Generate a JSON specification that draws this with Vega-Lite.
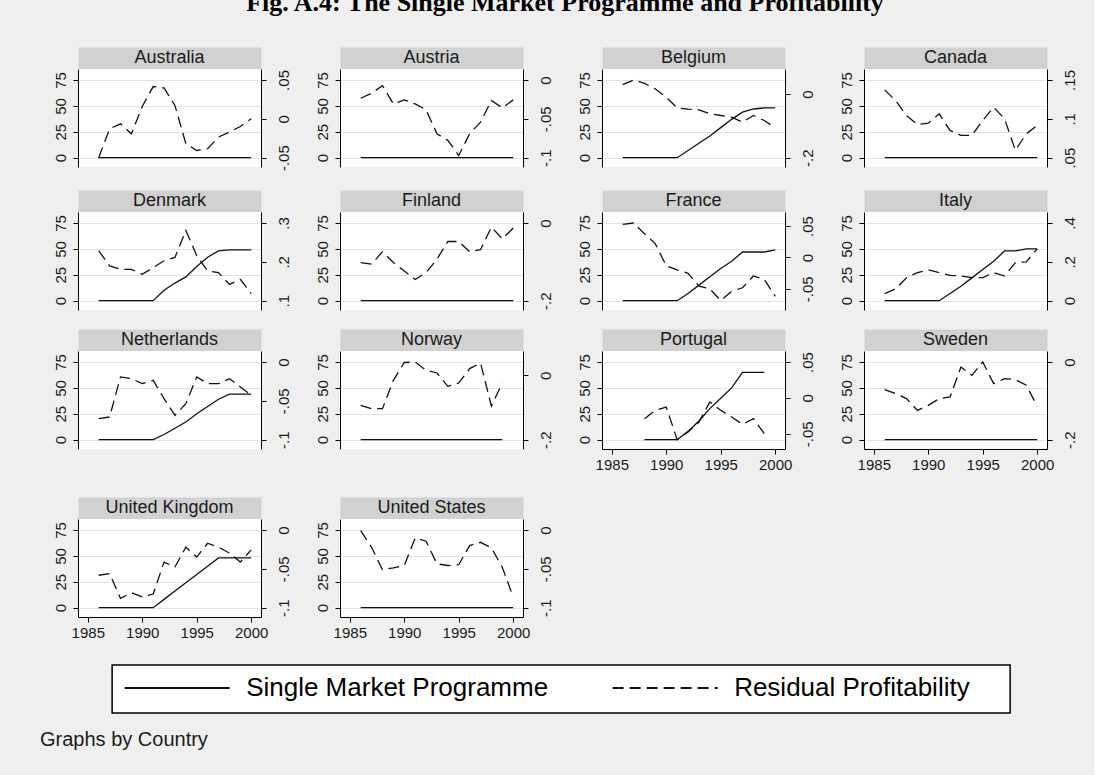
{
"$schema": "https://vega.github.io/schema/vega-lite/v6.json",
"background": "#efefef",
"padding": {"left": 40, "top": -11, "right": 17, "bottom": 25},
"title": {"text": "Graphs by Country", "orient": "bottom", "anchor": "start", "dx": -13, "offset": 16, "fontSize": 20, "fontWeight": "normal", "font": "Liberation Sans", "color": "#1a1a1a"},
"config": {
  "view": {"stroke": null},
  "font": "Liberation Sans",
  "axis": {"labelFont": "Liberation Sans", "labelFontSize": 15, "labelColor": "#1a1a1a", "domainColor": "#000000", "tickColor": "#000000", "tickSize": 5, "labelPadding": 3, "labelFlush": false, "labelOverlap": false, "domainWidth": 1, "tickWidth": 1},
  "text": {"font": "Liberation Sans"}
},
"resolve": {"scale": {"strokeDash": "independent"}, "legend": {"strokeDash": "independent"}},
"datasets": {"d": [
{"Country":"Australia","Year":1986,"SMP":0,"Residual":-0.05},
{"Country":"Australia","Year":1987,"SMP":0,"Residual":-0.0128},
{"Country":"Australia","Year":1988,"SMP":0,"Residual":-0.0064},
{"Country":"Australia","Year":1989,"SMP":0,"Residual":-0.0193},
{"Country":"Australia","Year":1990,"SMP":0,"Residual":0.0159},
{"Country":"Australia","Year":1991,"SMP":0,"Residual":0.0415},
{"Country":"Australia","Year":1992,"SMP":0,"Residual":0.0397},
{"Country":"Australia","Year":1993,"SMP":0,"Residual":0.0171},
{"Country":"Australia","Year":1994,"SMP":0,"Residual":-0.032},
{"Country":"Australia","Year":1995,"SMP":0,"Residual":-0.0407},
{"Country":"Australia","Year":1996,"SMP":0,"Residual":-0.0384},
{"Country":"Australia","Year":1997,"SMP":0,"Residual":-0.0235},
{"Country":"Australia","Year":1998,"SMP":0,"Residual":-0.0171},
{"Country":"Australia","Year":1999,"SMP":0,"Residual":-0.0099},
{"Country":"Australia","Year":2000,"SMP":0,"Residual":0.0},
{"Country":"Austria","Year":1986,"SMP":0,"Residual":-0.0235},
{"Country":"Austria","Year":1987,"SMP":0,"Residual":-0.0171},
{"Country":"Austria","Year":1988,"SMP":0,"Residual":-0.0073},
{"Country":"Austria","Year":1989,"SMP":0,"Residual":-0.0308},
{"Country":"Austria","Year":1990,"SMP":0,"Residual":-0.0256},
{"Country":"Austria","Year":1991,"SMP":0,"Residual":-0.0308},
{"Country":"Austria","Year":1992,"SMP":0,"Residual":-0.0384},
{"Country":"Austria","Year":1993,"SMP":0,"Residual":-0.0692},
{"Country":"Austria","Year":1994,"SMP":0,"Residual":-0.0777},
{"Country":"Austria","Year":1995,"SMP":0,"Residual":-0.0971},
{"Country":"Austria","Year":1996,"SMP":0,"Residual":-0.0692},
{"Country":"Austria","Year":1997,"SMP":0,"Residual":-0.0543},
{"Country":"Austria","Year":1998,"SMP":0,"Residual":-0.0265},
{"Country":"Austria","Year":1999,"SMP":0,"Residual":-0.0359},
{"Country":"Austria","Year":2000,"SMP":0,"Residual":-0.0256},
{"Country":"Belgium","Year":1986,"SMP":0,"Residual":0.0293},
{"Country":"Belgium","Year":1987,"SMP":0,"Residual":0.0439},
{"Country":"Belgium","Year":1988,"SMP":0,"Residual":0.0335},
{"Country":"Belgium","Year":1989,"SMP":0,"Residual":0.0156},
{"Country":"Belgium","Year":1990,"SMP":0,"Residual":-0.0104},
{"Country":"Belgium","Year":1991,"SMP":0,"Residual":-0.0436},
{"Country":"Belgium","Year":1992,"SMP":7,"Residual":-0.0478},
{"Country":"Belgium","Year":1993,"SMP":14,"Residual":-0.0498},
{"Country":"Belgium","Year":1994,"SMP":21,"Residual":-0.0624},
{"Country":"Belgium","Year":1995,"SMP":29,"Residual":-0.0676},
{"Country":"Belgium","Year":1996,"SMP":37,"Residual":-0.0728},
{"Country":"Belgium","Year":1997,"SMP":44,"Residual":-0.0885},
{"Country":"Belgium","Year":1998,"SMP":47,"Residual":-0.0676},
{"Country":"Belgium","Year":1999,"SMP":48,"Residual":-0.0833},
{"Country":"Belgium","Year":2000,"SMP":48,"Residual":-0.1063},
{"Country":"Canada","Year":1986,"SMP":0,"Residual":0.1372},
{"Country":"Canada","Year":1987,"SMP":0,"Residual":0.1235},
{"Country":"Canada","Year":1988,"SMP":0,"Residual":0.1043},
{"Country":"Canada","Year":1989,"SMP":0,"Residual":0.0928},
{"Country":"Canada","Year":1990,"SMP":0,"Residual":0.0944},
{"Country":"Canada","Year":1991,"SMP":0,"Residual":0.1064},
{"Country":"Canada","Year":1992,"SMP":0,"Residual":0.0851},
{"Country":"Canada","Year":1993,"SMP":0,"Residual":0.0787},
{"Country":"Canada","Year":1994,"SMP":0,"Residual":0.0787},
{"Country":"Canada","Year":1995,"SMP":0,"Residual":0.0979},
{"Country":"Canada","Year":1996,"SMP":0,"Residual":0.1149},
{"Country":"Canada","Year":1997,"SMP":0,"Residual":0.1},
{"Country":"Canada","Year":1998,"SMP":0,"Residual":0.0595},
{"Country":"Canada","Year":1999,"SMP":0,"Residual":0.0808},
{"Country":"Canada","Year":2000,"SMP":0,"Residual":0.0915},
{"Country":"Denmark","Year":1986,"SMP":0,"Residual":0.2288},
{"Country":"Denmark","Year":1987,"SMP":0,"Residual":0.1896},
{"Country":"Denmark","Year":1988,"SMP":0,"Residual":0.1808},
{"Country":"Denmark","Year":1989,"SMP":0,"Residual":0.1808},
{"Country":"Denmark","Year":1990,"SMP":0,"Residual":0.1677},
{"Country":"Denmark","Year":1991,"SMP":0,"Residual":0.1853},
{"Country":"Denmark","Year":1992,"SMP":10,"Residual":0.2027},
{"Country":"Denmark","Year":1993,"SMP":17,"Residual":0.2112},
{"Country":"Denmark","Year":1994,"SMP":23,"Residual":0.2808},
{"Country":"Denmark","Year":1995,"SMP":33,"Residual":0.2157},
{"Country":"Denmark","Year":1996,"SMP":42,"Residual":0.1765},
{"Country":"Denmark","Year":1997,"SMP":48,"Residual":0.1723},
{"Country":"Denmark","Year":1998,"SMP":49,"Residual":0.1419},
{"Country":"Denmark","Year":1999,"SMP":49,"Residual":0.1547},
{"Country":"Denmark","Year":2000,"SMP":49,"Residual":0.1181},
{"Country":"Finland","Year":1986,"SMP":0,"Residual":-0.1019},
{"Country":"Finland","Year":1987,"SMP":0,"Residual":-0.1061},
{"Country":"Finland","Year":1988,"SMP":0,"Residual":-0.0739},
{"Country":"Finland","Year":1989,"SMP":0,"Residual":-0.1019},
{"Country":"Finland","Year":1990,"SMP":0,"Residual":-0.1235},
{"Country":"Finland","Year":1991,"SMP":0,"Residual":-0.1453},
{"Country":"Finland","Year":1992,"SMP":0,"Residual":-0.1277},
{"Country":"Finland","Year":1993,"SMP":0,"Residual":-0.0931},
{"Country":"Finland","Year":1994,"SMP":0,"Residual":-0.0477},
{"Country":"Finland","Year":1995,"SMP":0,"Residual":-0.0477},
{"Country":"Finland","Year":1996,"SMP":0,"Residual":-0.0739},
{"Country":"Finland","Year":1997,"SMP":0,"Residual":-0.0688},
{"Country":"Finland","Year":1998,"SMP":0,"Residual":-0.0104},
{"Country":"Finland","Year":1999,"SMP":0,"Residual":-0.0408},
{"Country":"Finland","Year":2000,"SMP":0,"Residual":-0.0131},
{"Country":"France","Year":1986,"SMP":0,"Residual":0.0529},
{"Country":"France","Year":1987,"SMP":0,"Residual":0.055},
{"Country":"France","Year":1988,"SMP":0,"Residual":0.0379},
{"Country":"France","Year":1989,"SMP":0,"Residual":0.0217},
{"Country":"France","Year":1990,"SMP":0,"Residual":-0.0133},
{"Country":"France","Year":1991,"SMP":0,"Residual":-0.0198},
{"Country":"France","Year":1992,"SMP":7,"Residual":-0.0252},
{"Country":"France","Year":1993,"SMP":15,"Residual":-0.0457},
{"Country":"France","Year":1994,"SMP":23,"Residual":-0.05},
{"Country":"France","Year":1995,"SMP":31,"Residual":-0.0688},
{"Country":"France","Year":1996,"SMP":38,"Residual":-0.0538},
{"Country":"France","Year":1997,"SMP":47,"Residual":-0.0483},
{"Country":"France","Year":1998,"SMP":47,"Residual":-0.0295},
{"Country":"France","Year":1999,"SMP":47,"Residual":-0.035},
{"Country":"France","Year":2000,"SMP":49,"Residual":-0.0619},
{"Country":"Italy","Year":1986,"SMP":0,"Residual":0.0363},
{"Country":"Italy","Year":1987,"SMP":0,"Residual":0.0608},
{"Country":"Italy","Year":1988,"SMP":0,"Residual":0.1184},
{"Country":"Italy","Year":1989,"SMP":0,"Residual":0.1445},
{"Country":"Italy","Year":1990,"SMP":0,"Residual":0.1584},
{"Country":"Italy","Year":1991,"SMP":0,"Residual":0.1445},
{"Country":"Italy","Year":1992,"SMP":7,"Residual":0.1307},
{"Country":"Italy","Year":1993,"SMP":14,"Residual":0.1269},
{"Country":"Italy","Year":1994,"SMP":22,"Residual":0.1184},
{"Country":"Italy","Year":1995,"SMP":30,"Residual":0.1184},
{"Country":"Italy","Year":1996,"SMP":38,"Residual":0.1445},
{"Country":"Italy","Year":1997,"SMP":48,"Residual":0.1269},
{"Country":"Italy","Year":1998,"SMP":48,"Residual":0.1963},
{"Country":"Italy","Year":1999,"SMP":50,"Residual":0.2},
{"Country":"Italy","Year":2000,"SMP":50,"Residual":0.2661},
{"Country":"Netherlands","Year":1986,"SMP":0,"Residual":-0.0729},
{"Country":"Netherlands","Year":1987,"SMP":0,"Residual":-0.0708},
{"Country":"Netherlands","Year":1988,"SMP":0,"Residual":-0.0193},
{"Country":"Netherlands","Year":1989,"SMP":0,"Residual":-0.0215},
{"Country":"Netherlands","Year":1990,"SMP":0,"Residual":-0.0279},
{"Country":"Netherlands","Year":1991,"SMP":0,"Residual":-0.0236},
{"Country":"Netherlands","Year":1992,"SMP":5,"Residual":-0.0472},
{"Country":"Netherlands","Year":1993,"SMP":11,"Residual":-0.0687},
{"Country":"Netherlands","Year":1994,"SMP":17,"Residual":-0.0536},
{"Country":"Netherlands","Year":1995,"SMP":25,"Residual":-0.0193},
{"Country":"Netherlands","Year":1996,"SMP":32,"Residual":-0.0279},
{"Country":"Netherlands","Year":1997,"SMP":39,"Residual":-0.0279},
{"Country":"Netherlands","Year":1998,"SMP":44,"Residual":-0.0215},
{"Country":"Netherlands","Year":1999,"SMP":44,"Residual":-0.0321},
{"Country":"Netherlands","Year":2000,"SMP":44,"Residual":-0.0429},
{"Country":"Norway","Year":1986,"SMP":0,"Residual":-0.0931},
{"Country":"Norway","Year":1987,"SMP":0,"Residual":-0.1037},
{"Country":"Norway","Year":1988,"SMP":0,"Residual":-0.1037},
{"Country":"Norway","Year":1989,"SMP":0,"Residual":-0.0154},
{"Country":"Norway","Year":1990,"SMP":0,"Residual":0.04},
{"Country":"Norway","Year":1991,"SMP":0,"Residual":0.0416},
{"Country":"Norway","Year":1992,"SMP":0,"Residual":0.0158},
{"Country":"Norway","Year":1993,"SMP":0,"Residual":0.0074},
{"Country":"Norway","Year":1994,"SMP":0,"Residual":-0.0341},
{"Country":"Norway","Year":1995,"SMP":0,"Residual":-0.0238},
{"Country":"Norway","Year":1996,"SMP":0,"Residual":0.021},
{"Country":"Norway","Year":1997,"SMP":0,"Residual":0.0384},
{"Country":"Norway","Year":1998,"SMP":0,"Residual":-0.0953},
{"Country":"Norway","Year":1999,"SMP":0,"Residual":-0.0238},
{"Country":"Portugal","Year":1988,"SMP":0,"Residual":-0.029},
{"Country":"Portugal","Year":1989,"SMP":0,"Residual":-0.0174},
{"Country":"Portugal","Year":1990,"SMP":0,"Residual":-0.0128},
{"Country":"Portugal","Year":1991,"SMP":0,"Residual":-0.0583},
{"Country":"Portugal","Year":1992,"SMP":8,"Residual":-0.0476},
{"Country":"Portugal","Year":1993,"SMP":18,"Residual":-0.0338},
{"Country":"Portugal","Year":1994,"SMP":30,"Residual":-0.0057},
{"Country":"Portugal","Year":1995,"SMP":40,"Residual":-0.0174},
{"Country":"Portugal","Year":1996,"SMP":50,"Residual":-0.0267},
{"Country":"Portugal","Year":1997,"SMP":65,"Residual":-0.0369},
{"Country":"Portugal","Year":1998,"SMP":65,"Residual":-0.029},
{"Country":"Portugal","Year":1999,"SMP":65,"Residual":-0.0499},
{"Country":"Sweden","Year":1986,"SMP":0,"Residual":-0.0712},
{"Country":"Sweden","Year":1987,"SMP":0,"Residual":-0.0816},
{"Country":"Sweden","Year":1988,"SMP":0,"Residual":-0.0944},
{"Country":"Sweden","Year":1989,"SMP":0,"Residual":-0.1245},
{"Country":"Sweden","Year":1990,"SMP":0,"Residual":-0.1115},
{"Country":"Sweden","Year":1991,"SMP":0,"Residual":-0.0944},
{"Country":"Sweden","Year":1992,"SMP":0,"Residual":-0.0901},
{"Country":"Sweden","Year":1993,"SMP":0,"Residual":-0.0128},
{"Country":"Sweden","Year":1994,"SMP":0,"Residual":-0.0344},
{"Country":"Sweden","Year":1995,"SMP":0,"Residual":0.0},
{"Country":"Sweden","Year":1996,"SMP":0,"Residual":-0.0557},
{"Country":"Sweden","Year":1997,"SMP":0,"Residual":-0.0429},
{"Country":"Sweden","Year":1998,"SMP":0,"Residual":-0.0453},
{"Country":"Sweden","Year":1999,"SMP":0,"Residual":-0.06},
{"Country":"Sweden","Year":2000,"SMP":0,"Residual":-0.1141},
{"Country":"United Kingdom","Year":1986,"SMP":0,"Residual":-0.0583},
{"Country":"United Kingdom","Year":1987,"SMP":0,"Residual":-0.0561},
{"Country":"United Kingdom","Year":1988,"SMP":0,"Residual":-0.0881},
{"Country":"United Kingdom","Year":1989,"SMP":0,"Residual":-0.0808},
{"Country":"United Kingdom","Year":1990,"SMP":0,"Residual":-0.086},
{"Country":"United Kingdom","Year":1991,"SMP":0,"Residual":-0.0825},
{"Country":"United Kingdom","Year":1992,"SMP":8,"Residual":-0.0413},
{"Country":"United Kingdom","Year":1993,"SMP":16,"Residual":-0.0477},
{"Country":"United Kingdom","Year":1994,"SMP":24,"Residual":-0.0221},
{"Country":"United Kingdom","Year":1995,"SMP":32,"Residual":-0.0349},
{"Country":"United Kingdom","Year":1996,"SMP":40,"Residual":-0.0171},
{"Country":"United Kingdom","Year":1997,"SMP":48,"Residual":-0.0221},
{"Country":"United Kingdom","Year":1998,"SMP":48,"Residual":-0.0297},
{"Country":"United Kingdom","Year":1999,"SMP":48,"Residual":-0.0413},
{"Country":"United Kingdom","Year":2000,"SMP":48,"Residual":-0.0256},
{"Country":"United States","Year":1986,"SMP":0,"Residual":-0.0008},
{"Country":"United States","Year":1987,"SMP":0,"Residual":-0.0223},
{"Country":"United States","Year":1988,"SMP":0,"Residual":-0.0513},
{"Country":"United States","Year":1989,"SMP":0,"Residual":-0.0487},
{"Country":"United States","Year":1990,"SMP":0,"Residual":-0.0457},
{"Country":"United States","Year":1991,"SMP":0,"Residual":-0.0103},
{"Country":"United States","Year":1992,"SMP":0,"Residual":-0.0145},
{"Country":"United States","Year":1993,"SMP":0,"Residual":-0.0436},
{"Country":"United States","Year":1994,"SMP":0,"Residual":-0.0457},
{"Country":"United States","Year":1995,"SMP":0,"Residual":-0.0447},
{"Country":"United States","Year":1996,"SMP":0,"Residual":-0.0201},
{"Country":"United States","Year":1997,"SMP":0,"Residual":-0.0159},
{"Country":"United States","Year":1998,"SMP":0,"Residual":-0.0231},
{"Country":"United States","Year":1999,"SMP":0,"Residual":-0.0479},
{"Country":"United States","Year":2000,"SMP":0,"Residual":-0.0863}
]},
"vconcat": [
{
"title": {"text": "Fig. A.4: The Single Market Programme and Profitability", "font": "Liberation Serif", "fontSize": 26, "fontWeight": "bold", "color": "#000000", "anchor": "middle", "offset": 31},
"center": true,
"spacing": 24,
"resolve": {"scale": {"strokeDash": "independent"}, "legend": {"strokeDash": "independent"}},
"vconcat": [
{"spacing": 24, "vconcat": [
{
"columns": 4, "align": "each", "spacing": {"row": 18, "column": 24},
"concat": [
{"vconcat": [
 {"width": 183, "height": 22, "view": {"fill": "#d1d1d1", "stroke": "#dbe2ec"}, "data": {"values": [{"Country": "Australia"}]}, "mark": {"type": "text", "fontSize": 18, "color": "#1a1a1a"}, "encoding": {"text": {"field": "Country", "type": "nominal"}}},
 {"width": 183, "height": 98, "view": {"fill": "#ffffff"}, "data": {"name": "d"}, "transform": [{"filter": "datum.Country === 'Australia'"}],
  "layer": [
   {"mark": {"type": "line", "color": "#111111", "strokeWidth": 1.3}, "encoding": {"x": {"field": "Year", "type": "quantitative", "scale": {"domain": [1984.1, 2000.9], "nice": false, "zero": false}, "axis": null}, "y": {"field": "SMP", "type": "quantitative", "scale": {"domain": [-9, 85.6], "nice": false, "zero": false}, "axis": {"orient": "left", "values": [0, 25, 50, 75], "labelAngle": -90, "labelAlign": "center", "labelBaseline": "bottom", "labelPadding": 5, "grid": true, "gridColor": "#e2e2e2", "title": null}}}},
   {"mark": {"type": "line", "color": "#111111", "strokeWidth": 1.3, "strokeDash": [11, 6]}, "encoding": {"x": {"field": "Year", "type": "quantitative", "axis": null}, "y": {"field": "Residual", "type": "quantitative", "scale": {"domain": [-0.062, 0.0641], "nice": false, "zero": false}, "axis": {"orient": "right", "values": [-0.05, 0, 0.05], "labelAngle": -90, "labelAlign": "center", "labelBaseline": "top", "labelPadding": 10, "labelExpr": "replace('' + datum.value, '0.', '.')", "grid": false, "title": null}}}}
  ], "resolve": {"scale": {"y": "independent"}}}
], "spacing": 0, "bounds": "flush"},
{"vconcat": [
 {"width": 183, "height": 22, "view": {"fill": "#d1d1d1", "stroke": "#dbe2ec"}, "data": {"values": [{"Country": "Austria"}]}, "mark": {"type": "text", "fontSize": 18, "color": "#1a1a1a"}, "encoding": {"text": {"field": "Country", "type": "nominal"}}},
 {"width": 183, "height": 98, "view": {"fill": "#ffffff"}, "data": {"name": "d"}, "transform": [{"filter": "datum.Country === 'Austria'"}],
  "layer": [
   {"mark": {"type": "line", "color": "#111111", "strokeWidth": 1.3}, "encoding": {"x": {"field": "Year", "type": "quantitative", "scale": {"domain": [1984.1, 2000.9], "nice": false, "zero": false}, "axis": null}, "y": {"field": "SMP", "type": "quantitative", "scale": {"domain": [-9, 85.6], "nice": false, "zero": false}, "axis": {"orient": "left", "values": [0, 25, 50, 75], "labelAngle": -90, "labelAlign": "center", "labelBaseline": "bottom", "labelPadding": 5, "grid": true, "gridColor": "#e2e2e2", "title": null}}}},
   {"mark": {"type": "line", "color": "#111111", "strokeWidth": 1.3, "strokeDash": [11, 6]}, "encoding": {"x": {"field": "Year", "type": "quantitative", "axis": null}, "y": {"field": "Residual", "type": "quantitative", "scale": {"domain": [-0.112, 0.0141], "nice": false, "zero": false}, "axis": {"orient": "right", "values": [-0.1, -0.05, 0], "labelAngle": -90, "labelAlign": "center", "labelBaseline": "top", "labelPadding": 10, "labelExpr": "replace('' + datum.value, '0.', '.')", "grid": false, "title": null}}}}
  ], "resolve": {"scale": {"y": "independent"}}}
], "spacing": 0, "bounds": "flush"},
{"vconcat": [
 {"width": 183, "height": 22, "view": {"fill": "#d1d1d1", "stroke": "#dbe2ec"}, "data": {"values": [{"Country": "Belgium"}]}, "mark": {"type": "text", "fontSize": 18, "color": "#1a1a1a"}, "encoding": {"text": {"field": "Country", "type": "nominal"}}},
 {"width": 183, "height": 98, "view": {"fill": "#ffffff"}, "data": {"name": "d"}, "transform": [{"filter": "datum.Country === 'Belgium'"}],
  "layer": [
   {"mark": {"type": "line", "color": "#111111", "strokeWidth": 1.3}, "encoding": {"x": {"field": "Year", "type": "quantitative", "scale": {"domain": [1984.1, 2000.9], "nice": false, "zero": false}, "axis": null}, "y": {"field": "SMP", "type": "quantitative", "scale": {"domain": [-9, 85.6], "nice": false, "zero": false}, "axis": {"orient": "left", "values": [0, 25, 50, 75], "labelAngle": -90, "labelAlign": "center", "labelBaseline": "bottom", "labelPadding": 5, "grid": true, "gridColor": "#e2e2e2", "title": null}}}},
   {"mark": {"type": "line", "color": "#111111", "strokeWidth": 1.3, "strokeDash": [11, 6]}, "encoding": {"x": {"field": "Year", "type": "quantitative", "axis": null}, "y": {"field": "Residual", "type": "quantitative", "scale": {"domain": [-0.2293, 0.0784], "nice": false, "zero": false}, "axis": {"orient": "right", "values": [-0.2, 0], "labelAngle": -90, "labelAlign": "center", "labelBaseline": "top", "labelPadding": 10, "labelExpr": "replace('' + datum.value, '0.', '.')", "grid": false, "title": null}}}}
  ], "resolve": {"scale": {"y": "independent"}}}
], "spacing": 0, "bounds": "flush"},
{"vconcat": [
 {"width": 183, "height": 22, "view": {"fill": "#d1d1d1", "stroke": "#dbe2ec"}, "data": {"values": [{"Country": "Canada"}]}, "mark": {"type": "text", "fontSize": 18, "color": "#1a1a1a"}, "encoding": {"text": {"field": "Country", "type": "nominal"}}},
 {"width": 183, "height": 98, "view": {"fill": "#ffffff"}, "data": {"name": "d"}, "transform": [{"filter": "datum.Country === 'Canada'"}],
  "layer": [
   {"mark": {"type": "line", "color": "#111111", "strokeWidth": 1.3}, "encoding": {"x": {"field": "Year", "type": "quantitative", "scale": {"domain": [1984.1, 2000.9], "nice": false, "zero": false}, "axis": null}, "y": {"field": "SMP", "type": "quantitative", "scale": {"domain": [-9, 85.6], "nice": false, "zero": false}, "axis": {"orient": "left", "values": [0, 25, 50, 75], "labelAngle": -90, "labelAlign": "center", "labelBaseline": "bottom", "labelPadding": 5, "grid": true, "gridColor": "#e2e2e2", "title": null}}}},
   {"mark": {"type": "line", "color": "#111111", "strokeWidth": 1.3, "strokeDash": [11, 6]}, "encoding": {"x": {"field": "Year", "type": "quantitative", "axis": null}, "y": {"field": "Residual", "type": "quantitative", "scale": {"domain": [0.038, 0.1641], "nice": false, "zero": false}, "axis": {"orient": "right", "values": [0.05, 0.1, 0.15], "labelAngle": -90, "labelAlign": "center", "labelBaseline": "top", "labelPadding": 10, "labelExpr": "replace('' + datum.value, '0.', '.')", "grid": false, "title": null}}}}
  ], "resolve": {"scale": {"y": "independent"}}}
], "spacing": 0, "bounds": "flush"},
{"vconcat": [
 {"width": 183, "height": 22, "view": {"fill": "#d1d1d1", "stroke": "#dbe2ec"}, "data": {"values": [{"Country": "Denmark"}]}, "mark": {"type": "text", "fontSize": 18, "color": "#1a1a1a"}, "encoding": {"text": {"field": "Country", "type": "nominal"}}},
 {"width": 183, "height": 98, "view": {"fill": "#ffffff"}, "data": {"name": "d"}, "transform": [{"filter": "datum.Country === 'Denmark'"}],
  "layer": [
   {"mark": {"type": "line", "color": "#111111", "strokeWidth": 1.3}, "encoding": {"x": {"field": "Year", "type": "quantitative", "scale": {"domain": [1984.1, 2000.9], "nice": false, "zero": false}, "axis": null}, "y": {"field": "SMP", "type": "quantitative", "scale": {"domain": [-9, 85.6], "nice": false, "zero": false}, "axis": {"orient": "left", "values": [0, 25, 50, 75], "labelAngle": -90, "labelAlign": "center", "labelBaseline": "bottom", "labelPadding": 5, "grid": true, "gridColor": "#e2e2e2", "title": null}}}},
   {"mark": {"type": "line", "color": "#111111", "strokeWidth": 1.3, "strokeDash": [11, 6]}, "encoding": {"x": {"field": "Year", "type": "quantitative", "axis": null}, "y": {"field": "Residual", "type": "quantitative", "scale": {"domain": [0.076, 0.3283], "nice": false, "zero": false}, "axis": {"orient": "right", "values": [0.1, 0.2, 0.3], "labelAngle": -90, "labelAlign": "center", "labelBaseline": "top", "labelPadding": 10, "labelExpr": "replace('' + datum.value, '0.', '.')", "grid": false, "title": null}}}}
  ], "resolve": {"scale": {"y": "independent"}}}
], "spacing": 0, "bounds": "flush"},
{"vconcat": [
 {"width": 183, "height": 22, "view": {"fill": "#d1d1d1", "stroke": "#dbe2ec"}, "data": {"values": [{"Country": "Finland"}]}, "mark": {"type": "text", "fontSize": 18, "color": "#1a1a1a"}, "encoding": {"text": {"field": "Country", "type": "nominal"}}},
 {"width": 183, "height": 98, "view": {"fill": "#ffffff"}, "data": {"name": "d"}, "transform": [{"filter": "datum.Country === 'Finland'"}],
  "layer": [
   {"mark": {"type": "line", "color": "#111111", "strokeWidth": 1.3}, "encoding": {"x": {"field": "Year", "type": "quantitative", "scale": {"domain": [1984.1, 2000.9], "nice": false, "zero": false}, "axis": null}, "y": {"field": "SMP", "type": "quantitative", "scale": {"domain": [-9, 85.6], "nice": false, "zero": false}, "axis": {"orient": "left", "values": [0, 25, 50, 75], "labelAngle": -90, "labelAlign": "center", "labelBaseline": "bottom", "labelPadding": 5, "grid": true, "gridColor": "#e2e2e2", "title": null}}}},
   {"mark": {"type": "line", "color": "#111111", "strokeWidth": 1.3, "strokeDash": [11, 6]}, "encoding": {"x": {"field": "Year", "type": "quantitative", "axis": null}, "y": {"field": "Residual", "type": "quantitative", "scale": {"domain": [-0.224, 0.0283], "nice": false, "zero": false}, "axis": {"orient": "right", "values": [-0.2, 0], "labelAngle": -90, "labelAlign": "center", "labelBaseline": "top", "labelPadding": 10, "labelExpr": "replace('' + datum.value, '0.', '.')", "grid": false, "title": null}}}}
  ], "resolve": {"scale": {"y": "independent"}}}
], "spacing": 0, "bounds": "flush"},
{"vconcat": [
 {"width": 183, "height": 22, "view": {"fill": "#d1d1d1", "stroke": "#dbe2ec"}, "data": {"values": [{"Country": "France"}]}, "mark": {"type": "text", "fontSize": 18, "color": "#1a1a1a"}, "encoding": {"text": {"field": "Country", "type": "nominal"}}},
 {"width": 183, "height": 98, "view": {"fill": "#ffffff"}, "data": {"name": "d"}, "transform": [{"filter": "datum.Country === 'France'"}],
  "layer": [
   {"mark": {"type": "line", "color": "#111111", "strokeWidth": 1.3}, "encoding": {"x": {"field": "Year", "type": "quantitative", "scale": {"domain": [1984.1, 2000.9], "nice": false, "zero": false}, "axis": null}, "y": {"field": "SMP", "type": "quantitative", "scale": {"domain": [-9, 85.6], "nice": false, "zero": false}, "axis": {"orient": "left", "values": [0, 25, 50, 75], "labelAngle": -90, "labelAlign": "center", "labelBaseline": "bottom", "labelPadding": 5, "grid": true, "gridColor": "#e2e2e2", "title": null}}}},
   {"mark": {"type": "line", "color": "#111111", "strokeWidth": 1.3, "strokeDash": [11, 6]}, "encoding": {"x": {"field": "Year", "type": "quantitative", "axis": null}, "y": {"field": "Residual", "type": "quantitative", "scale": {"domain": [-0.0837, 0.0725], "nice": false, "zero": false}, "axis": {"orient": "right", "values": [-0.05, 0, 0.05], "labelAngle": -90, "labelAlign": "center", "labelBaseline": "top", "labelPadding": 10, "labelExpr": "replace('' + datum.value, '0.', '.')", "grid": false, "title": null}}}}
  ], "resolve": {"scale": {"y": "independent"}}}
], "spacing": 0, "bounds": "flush"},
{"vconcat": [
 {"width": 183, "height": 22, "view": {"fill": "#d1d1d1", "stroke": "#dbe2ec"}, "data": {"values": [{"Country": "Italy"}]}, "mark": {"type": "text", "fontSize": 18, "color": "#1a1a1a"}, "encoding": {"text": {"field": "Country", "type": "nominal"}}},
 {"width": 183, "height": 98, "view": {"fill": "#ffffff"}, "data": {"name": "d"}, "transform": [{"filter": "datum.Country === 'Italy'"}],
  "layer": [
   {"mark": {"type": "line", "color": "#111111", "strokeWidth": 1.3}, "encoding": {"x": {"field": "Year", "type": "quantitative", "scale": {"domain": [1984.1, 2000.9], "nice": false, "zero": false}, "axis": null}, "y": {"field": "SMP", "type": "quantitative", "scale": {"domain": [-9, 85.6], "nice": false, "zero": false}, "axis": {"orient": "left", "values": [0, 25, 50, 75], "labelAngle": -90, "labelAlign": "center", "labelBaseline": "bottom", "labelPadding": 5, "grid": true, "gridColor": "#e2e2e2", "title": null}}}},
   {"mark": {"type": "line", "color": "#111111", "strokeWidth": 1.3, "strokeDash": [11, 6]}, "encoding": {"x": {"field": "Year", "type": "quantitative", "axis": null}, "y": {"field": "Residual", "type": "quantitative", "scale": {"domain": [-0.048, 0.4565], "nice": false, "zero": false}, "axis": {"orient": "right", "values": [0, 0.2, 0.4], "labelAngle": -90, "labelAlign": "center", "labelBaseline": "top", "labelPadding": 10, "labelExpr": "replace('' + datum.value, '0.', '.')", "grid": false, "title": null}}}}
  ], "resolve": {"scale": {"y": "independent"}}}
], "spacing": 0, "bounds": "flush"},
{"vconcat": [
 {"width": 183, "height": 22, "view": {"fill": "#d1d1d1", "stroke": "#dbe2ec"}, "data": {"values": [{"Country": "Netherlands"}]}, "mark": {"type": "text", "fontSize": 18, "color": "#1a1a1a"}, "encoding": {"text": {"field": "Country", "type": "nominal"}}},
 {"width": 183, "height": 98, "view": {"fill": "#ffffff"}, "data": {"name": "d"}, "transform": [{"filter": "datum.Country === 'Netherlands'"}],
  "layer": [
   {"mark": {"type": "line", "color": "#111111", "strokeWidth": 1.3}, "encoding": {"x": {"field": "Year", "type": "quantitative", "scale": {"domain": [1984.1, 2000.9], "nice": false, "zero": false}, "axis": null}, "y": {"field": "SMP", "type": "quantitative", "scale": {"domain": [-9, 85.6], "nice": false, "zero": false}, "axis": {"orient": "left", "values": [0, 25, 50, 75], "labelAngle": -90, "labelAlign": "center", "labelBaseline": "bottom", "labelPadding": 5, "grid": true, "gridColor": "#e2e2e2", "title": null}}}},
   {"mark": {"type": "line", "color": "#111111", "strokeWidth": 1.3, "strokeDash": [11, 6]}, "encoding": {"x": {"field": "Year", "type": "quantitative", "axis": null}, "y": {"field": "Residual", "type": "quantitative", "scale": {"domain": [-0.112, 0.0141], "nice": false, "zero": false}, "axis": {"orient": "right", "values": [-0.1, -0.05, 0], "labelAngle": -90, "labelAlign": "center", "labelBaseline": "top", "labelPadding": 10, "labelExpr": "replace('' + datum.value, '0.', '.')", "grid": false, "title": null}}}}
  ], "resolve": {"scale": {"y": "independent"}}}
], "spacing": 0, "bounds": "flush"},
{"vconcat": [
 {"width": 183, "height": 22, "view": {"fill": "#d1d1d1", "stroke": "#dbe2ec"}, "data": {"values": [{"Country": "Norway"}]}, "mark": {"type": "text", "fontSize": 18, "color": "#1a1a1a"}, "encoding": {"text": {"field": "Country", "type": "nominal"}}},
 {"width": 183, "height": 98, "view": {"fill": "#ffffff"}, "data": {"name": "d"}, "transform": [{"filter": "datum.Country === 'Norway'"}],
  "layer": [
   {"mark": {"type": "line", "color": "#111111", "strokeWidth": 1.3}, "encoding": {"x": {"field": "Year", "type": "quantitative", "scale": {"domain": [1984.1, 2000.9], "nice": false, "zero": false}, "axis": null}, "y": {"field": "SMP", "type": "quantitative", "scale": {"domain": [-9, 85.6], "nice": false, "zero": false}, "axis": {"orient": "left", "values": [0, 25, 50, 75], "labelAngle": -90, "labelAlign": "center", "labelBaseline": "bottom", "labelPadding": 5, "grid": true, "gridColor": "#e2e2e2", "title": null}}}},
   {"mark": {"type": "line", "color": "#111111", "strokeWidth": 1.3, "strokeDash": [11, 6]}, "encoding": {"x": {"field": "Year", "type": "quantitative", "axis": null}, "y": {"field": "Residual", "type": "quantitative", "scale": {"domain": [-0.229, 0.0757], "nice": false, "zero": false}, "axis": {"orient": "right", "values": [-0.2, 0], "labelAngle": -90, "labelAlign": "center", "labelBaseline": "top", "labelPadding": 10, "labelExpr": "replace('' + datum.value, '0.', '.')", "grid": false, "title": null}}}}
  ], "resolve": {"scale": {"y": "independent"}}}
], "spacing": 0, "bounds": "flush"},
{"vconcat": [
 {"width": 183, "height": 22, "view": {"fill": "#d1d1d1", "stroke": "#dbe2ec"}, "data": {"values": [{"Country": "Portugal"}]}, "mark": {"type": "text", "fontSize": 18, "color": "#1a1a1a"}, "encoding": {"text": {"field": "Country", "type": "nominal"}}},
 {"width": 183, "height": 98, "view": {"fill": "#ffffff"}, "data": {"name": "d"}, "transform": [{"filter": "datum.Country === 'Portugal'"}],
  "layer": [
   {"mark": {"type": "line", "color": "#111111", "strokeWidth": 1.3}, "encoding": {"x": {"field": "Year", "type": "quantitative", "scale": {"domain": [1984.1, 2000.9], "nice": false, "zero": false}, "axis": {"values": [1985, 1990, 1995, 2000], "format": "d", "grid": false, "title": null, "labelAngle": 0}}, "y": {"field": "SMP", "type": "quantitative", "scale": {"domain": [-9, 85.6], "nice": false, "zero": false}, "axis": {"orient": "left", "values": [0, 25, 50, 75], "labelAngle": -90, "labelAlign": "center", "labelBaseline": "bottom", "labelPadding": 5, "grid": true, "gridColor": "#e2e2e2", "title": null}}}},
   {"mark": {"type": "line", "color": "#111111", "strokeWidth": 1.3, "strokeDash": [11, 6]}, "encoding": {"x": {"field": "Year", "type": "quantitative", "axis": {"values": [1985, 1990, 1995, 2000], "format": "d", "grid": false, "title": null, "labelAngle": 0}}, "y": {"field": "Residual", "type": "quantitative", "scale": {"domain": [-0.0713, 0.0653], "nice": false, "zero": false}, "axis": {"orient": "right", "values": [-0.05, 0, 0.05], "labelAngle": -90, "labelAlign": "center", "labelBaseline": "top", "labelPadding": 10, "labelExpr": "replace('' + datum.value, '0.', '.')", "grid": false, "title": null}}}}
  ], "resolve": {"scale": {"y": "independent"}}}
], "spacing": 0, "bounds": "flush"},
{"vconcat": [
 {"width": 183, "height": 22, "view": {"fill": "#d1d1d1", "stroke": "#dbe2ec"}, "data": {"values": [{"Country": "Sweden"}]}, "mark": {"type": "text", "fontSize": 18, "color": "#1a1a1a"}, "encoding": {"text": {"field": "Country", "type": "nominal"}}},
 {"width": 183, "height": 98, "view": {"fill": "#ffffff"}, "data": {"name": "d"}, "transform": [{"filter": "datum.Country === 'Sweden'"}],
  "layer": [
   {"mark": {"type": "line", "color": "#111111", "strokeWidth": 1.3}, "encoding": {"x": {"field": "Year", "type": "quantitative", "scale": {"domain": [1984.1, 2000.9], "nice": false, "zero": false}, "axis": {"values": [1985, 1990, 1995, 2000], "format": "d", "grid": false, "title": null, "labelAngle": 0}}, "y": {"field": "SMP", "type": "quantitative", "scale": {"domain": [-9, 85.6], "nice": false, "zero": false}, "axis": {"orient": "left", "values": [0, 25, 50, 75], "labelAngle": -90, "labelAlign": "center", "labelBaseline": "bottom", "labelPadding": 5, "grid": true, "gridColor": "#e2e2e2", "title": null}}}},
   {"mark": {"type": "line", "color": "#111111", "strokeWidth": 1.3, "strokeDash": [11, 6]}, "encoding": {"x": {"field": "Year", "type": "quantitative", "axis": {"values": [1985, 1990, 1995, 2000], "format": "d", "grid": false, "title": null, "labelAngle": 0}}, "y": {"field": "Residual", "type": "quantitative", "scale": {"domain": [-0.224, 0.0283], "nice": false, "zero": false}, "axis": {"orient": "right", "values": [-0.2, 0], "labelAngle": -90, "labelAlign": "center", "labelBaseline": "top", "labelPadding": 10, "labelExpr": "replace('' + datum.value, '0.', '.')", "grid": false, "title": null}}}}
  ], "resolve": {"scale": {"y": "independent"}}}
], "spacing": 0, "bounds": "flush"}
]
},
{"spacing": 24, "hconcat": [
{"vconcat": [
 {"width": 183, "height": 22, "view": {"fill": "#d1d1d1", "stroke": "#dbe2ec"}, "data": {"values": [{"Country": "United Kingdom"}]}, "mark": {"type": "text", "fontSize": 18, "color": "#1a1a1a"}, "encoding": {"text": {"field": "Country", "type": "nominal"}}},
 {"width": 183, "height": 98, "view": {"fill": "#ffffff"}, "data": {"name": "d"}, "transform": [{"filter": "datum.Country === 'United Kingdom'"}],
  "layer": [
   {"mark": {"type": "line", "color": "#111111", "strokeWidth": 1.3}, "encoding": {"x": {"field": "Year", "type": "quantitative", "scale": {"domain": [1984.1, 2000.9], "nice": false, "zero": false}, "axis": {"values": [1985, 1990, 1995, 2000], "format": "d", "grid": false, "title": null, "labelAngle": 0}}, "y": {"field": "SMP", "type": "quantitative", "scale": {"domain": [-9, 85.6], "nice": false, "zero": false}, "axis": {"orient": "left", "values": [0, 25, 50, 75], "labelAngle": -90, "labelAlign": "center", "labelBaseline": "bottom", "labelPadding": 5, "grid": true, "gridColor": "#e2e2e2", "title": null}}}},
   {"mark": {"type": "line", "color": "#111111", "strokeWidth": 1.3, "strokeDash": [11, 6]}, "encoding": {"x": {"field": "Year", "type": "quantitative", "axis": {"values": [1985, 1990, 1995, 2000], "format": "d", "grid": false, "title": null, "labelAngle": 0}}, "y": {"field": "Residual", "type": "quantitative", "scale": {"domain": [-0.112, 0.0141], "nice": false, "zero": false}, "axis": {"orient": "right", "values": [-0.1, -0.05, 0], "labelAngle": -90, "labelAlign": "center", "labelBaseline": "top", "labelPadding": 10, "labelExpr": "replace('' + datum.value, '0.', '.')", "grid": false, "title": null}}}}
  ], "resolve": {"scale": {"y": "independent"}}}
], "spacing": 0, "bounds": "flush"},
{"vconcat": [
 {"width": 183, "height": 22, "view": {"fill": "#d1d1d1", "stroke": "#dbe2ec"}, "data": {"values": [{"Country": "United States"}]}, "mark": {"type": "text", "fontSize": 18, "color": "#1a1a1a"}, "encoding": {"text": {"field": "Country", "type": "nominal"}}},
 {"width": 183, "height": 98, "view": {"fill": "#ffffff"}, "data": {"name": "d"}, "transform": [{"filter": "datum.Country === 'United States'"}],
  "layer": [
   {"mark": {"type": "line", "color": "#111111", "strokeWidth": 1.3}, "encoding": {"x": {"field": "Year", "type": "quantitative", "scale": {"domain": [1984.1, 2000.9], "nice": false, "zero": false}, "axis": {"values": [1985, 1990, 1995, 2000], "format": "d", "grid": false, "title": null, "labelAngle": 0}}, "y": {"field": "SMP", "type": "quantitative", "scale": {"domain": [-9, 85.6], "nice": false, "zero": false}, "axis": {"orient": "left", "values": [0, 25, 50, 75], "labelAngle": -90, "labelAlign": "center", "labelBaseline": "bottom", "labelPadding": 5, "grid": true, "gridColor": "#e2e2e2", "title": null}}}},
   {"mark": {"type": "line", "color": "#111111", "strokeWidth": 1.3, "strokeDash": [11, 6]}, "encoding": {"x": {"field": "Year", "type": "quantitative", "axis": {"values": [1985, 1990, 1995, 2000], "format": "d", "grid": false, "title": null, "labelAngle": 0}}, "y": {"field": "Residual", "type": "quantitative", "scale": {"domain": [-0.112, 0.0141], "nice": false, "zero": false}, "axis": {"orient": "right", "values": [-0.1, -0.05, 0], "labelAngle": -90, "labelAlign": "center", "labelBaseline": "top", "labelPadding": 10, "labelExpr": "replace('' + datum.value, '0.', '.')", "grid": false, "title": null}}}}
  ], "resolve": {"scale": {"y": "independent"}}}
], "spacing": 0, "bounds": "flush"}
]}
]},
{
"width": 898, "height": 48,
"title": {"text": " ", "orient": "right", "offset": 19},
"view": {"fill": "#ffffff", "stroke": "#000000", "strokeWidth": 1.5},
"data": {"values": [{"Series": "Single Market Programme"}, {"Series": "Residual Profitability"}]},
"mark": {"type": "line", "color": "#111111"},
"encoding": {"strokeDash": {"field": "Series", "type": "nominal", "scale": {"domain": ["Single Market Programme", "Residual Profitability"], "range": [[1, 0], [11, 6]]},
  "legend": {"orient": "top-left", "offset": 10, "direction": "horizontal", "title": null, "symbolType": "M-1,0H9", "symbolSize": 441, "symbolStrokeWidth": 1.8, "symbolStrokeColor": "#111111", "labelFont": "Liberation Sans", "labelFontSize": 26, "labelColor": "#000000", "labelOffset": 98, "columnPadding": 60, "labelLimit": 600, "padding": 0}}}
}
]
}
]
}
